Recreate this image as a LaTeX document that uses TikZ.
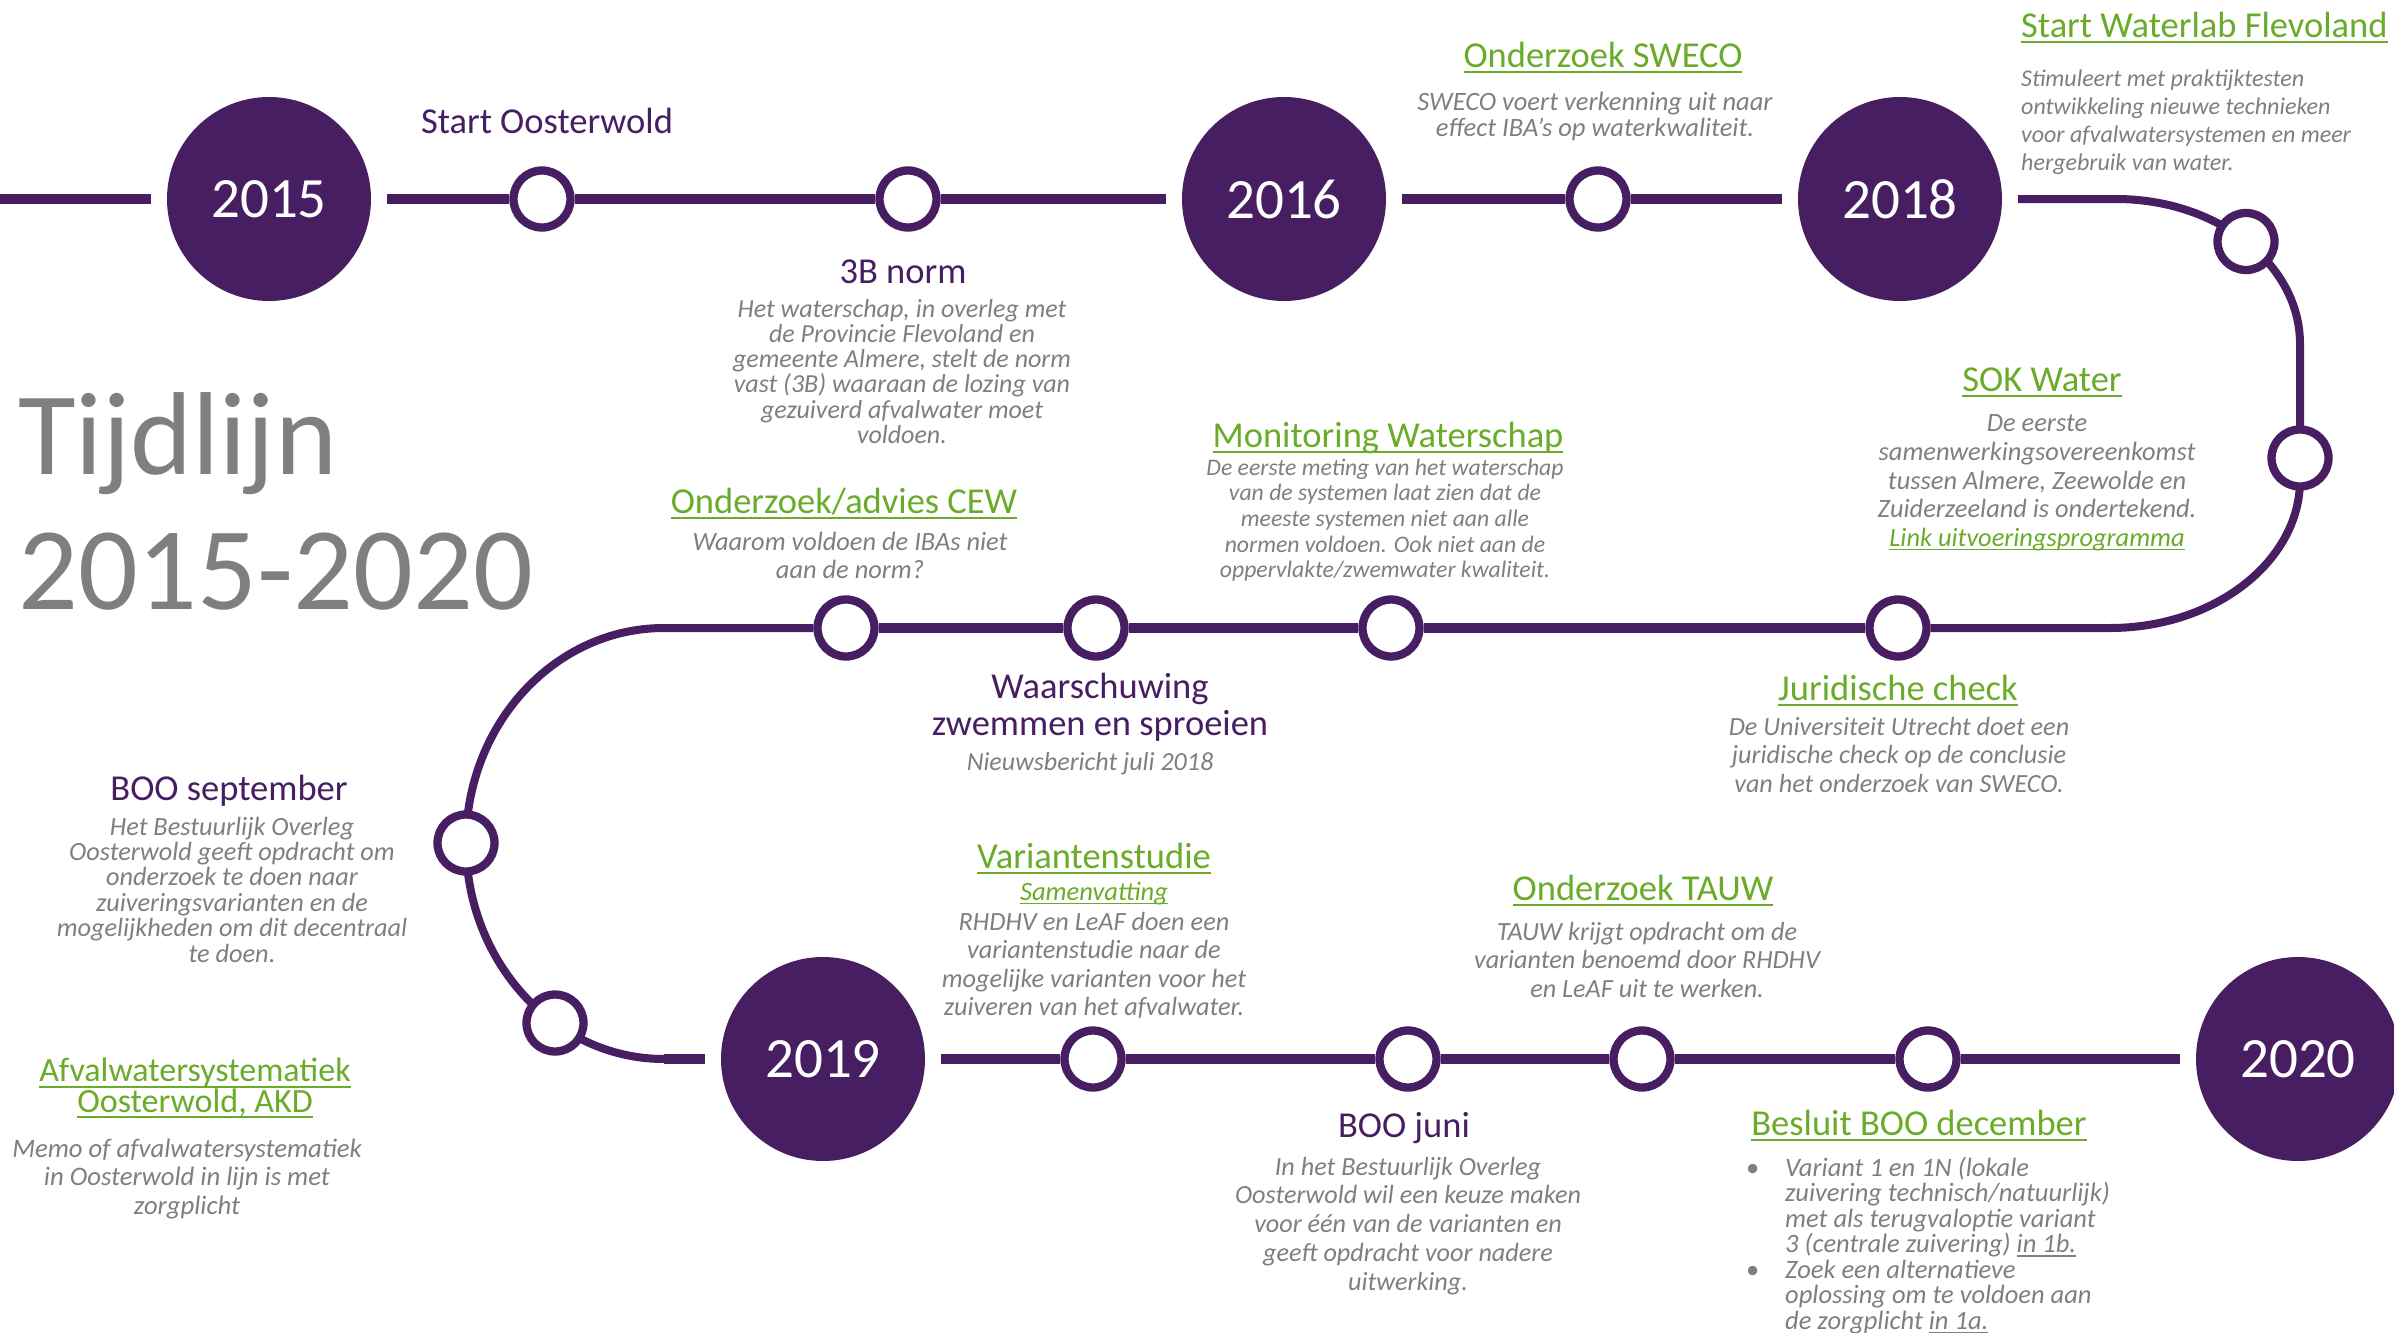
\documentclass[tikz,border=0pt]{standalone}
\usepackage{fontspec}
\setmainfont{Carlito}
\definecolor{tlpurple}{RGB}{72,30,98}
\definecolor{tlgreen}{RGB}{106,172,42}
\definecolor{tlgrey}{RGB}{127,127,127}
\pgfdeclarelayer{bg}
\pgfsetlayers{bg,main}
\newsavebox\ulbox
\newcommand\hul[1]{\sbox\ulbox{#1}\rlap{\vrule height -4pt depth 6pt width \wd\ulbox}\usebox\ulbox}
\newcommand\bul[1]{\sbox\ulbox{#1}\rlap{\vrule height -2.5pt depth 4pt width \wd\ulbox}\usebox\ulbox}
\tikzset{
  year/.style={circle, fill=tlpurple, text=white, minimum size=204pt, inner sep=0pt, outer sep=16pt, font=\fontsize{57}{57}\selectfont},
  dot/.style={circle, draw=tlpurple, line width=8.3pt, fill=white, minimum size=57pt, inner sep=0pt},
  trackthick/.style={draw=tlpurple, line width=10pt},
  trackthin/.style={draw=tlpurple, line width=8pt},
  head/.style={inner sep=0pt, anchor=base, font=\fontsize{36.5}{37}\selectfont},
  ph/.style={head, text=tlpurple},
  gh/.style={head, text=tlgreen},
  body/.style 2 args={inner sep=0pt, anchor=north, align=center, text=tlgrey, font=\fontsize{#1}{#2}\selectfont\itshape},
  titletext/.style={inner sep=0pt, anchor=base west, text=tlgrey, font=\fontsize{118}{118}\selectfont},
}
\begin{document}
\begin{tikzpicture}[x=1pt,y=-1pt]
\useasboundingbox (0,0) rectangle (2394,1333);
\begin{pgfonlayer}{bg}
\fill[white] (0,0) rectangle (2394,1333);
\end{pgfonlayer}

% title
\node[titletext] (t1) at (18,474) {Tijdlijn};
\node[titletext] (t2) at (18,609) {2015-2020};

% year circles
\node[year] (y2015) at (269,199) {2015};
\node[year] (y2016) at (1284,199) {2016};
\node[year] (y2018) at (1900,199) {2018};
\node[year] (y2019) at (823,1059) {2019};
\node[year] (y2020) at (2298,1059) {2020};

% small dots
\node[dot] (s1) at (542,199) {};
\node[dot] (s2) at (908,199) {};
\node[dot] (s3) at (1598,199) {};
\node[dot] (s4) at (2246,241.5) {};
\node[dot] (s5) at (2300,458) {};
\node[dot] (s6) at (1898,628) {};
\node[dot] (s7) at (1391,628) {};
\node[dot] (s8) at (1096,628) {};
\node[dot] (s9) at (846,628) {};
\node[dot] (s10) at (466,843) {};
\node[dot] (s11) at (555,1023) {};
\node[dot] (s12) at (1093,1059) {};
\node[dot] (s13) at (1408,1059) {};
\node[dot] (s14) at (1642,1059) {};
\node[dot] (s15) at (1928,1059) {};

% turning points
\coordinate (e0) at (0,199);
\coordinate (c1) at (2116,199);
\coordinate (c2) at (2300,344);
\coordinate (c3) at (2300,480);
\coordinate (c4) at (2110,628);
\coordinate (c5) at (664,628);
\coordinate (c6) at (466,843);
\coordinate (c7) at (664,1059);

\begin{pgfonlayer}{bg}
\draw[trackthick] (e0) -- (y2015);
\draw[trackthick] (y2015) -- (s1) -- (s2) -- (y2016) -- (s3) -- (y2018);
\draw[trackthin] (y2018) -- (c1) .. controls +(101.6,0) and +(0,-80) .. (c2) -- (c3) .. controls +(0,81) and +(105,0) .. (c4) -- (s6);
\draw[trackthick] (s6) -- (s7) -- (s8) -- (s9);
\draw[trackthin] (s9) -- (c5) .. controls +(-109,0) and +(0,-119) .. (c6) .. controls +(0,119) and +(-109,0) .. (c7);
\draw[trackthick] (c7) -- (y2019) -- (s12) -- (s13) -- (s14) -- (s15) -- (y2020);
\end{pgfonlayer}

% headings
\node[ph] (h1) at (547,133) {Start Oosterwold};
\node[ph] (h2) at (903,283) {3B norm};
\node[gh] (h3) at (1603,67) {\hul{Onderzoek SWECO}};
\node[gh, anchor=base west] (h4) at (2021,37) {\hul{Start Waterlab Flevoland}};
\node[gh] (h5) at (2042,391) {\hul{SOK Water}};
\node[gh] (h6) at (1388,447) {\hul{Monitoring Waterschap}};
\node[gh] (h7) at (844,513) {\hul{Onderzoek/advies CEW}};
\node[ph, anchor=north, align=center] (h8) at (1100,672.5) {Waarschuwing\\zwemmen en sproeien};
\node[gh] (h9) at (1898,700) {\hul{Juridische check}};
\node[ph] (h10) at (229,800) {BOO september};
\node[gh, anchor=north, align=center, font=\fontsize{34}{29}\selectfont] (h11) at (195,1058) {\hul{Afvalwatersystematiek}\\\hul{Oosterwold, AKD}};
\node[gh] (h12) at (1094,868) {\hul{Variantenstudie}};
\node[gh] (h13) at (1643,900) {\hul{Onderzoek TAUW}};
\node[ph] (h14) at (1404,1137) {BOO juni};
\node[gh] (h15) at (1919,1135) {\hul{Besluit BOO december}};

% bodies
\node[body={26}{25.2}] (b2) at (902,299) {Het waterschap, in overleg met\\de Provincie Flevoland en\\gemeente Almere, stelt de norm\\vast (3B) waaraan de lozing van\\gezuiverd afvalwater moet\\voldoen.};
\node[body={26.5}{26}] (b3) at (1595,91.5) {SWECO voert verkenning uit naar\\effect IBA’s op waterkwaliteit.};
\node[body={24}{27.8}, anchor=north west, align=left] (b4) at (2021,70) {Stimuleert met praktijktesten\\ontwikkeling nieuwe technieken\\voor afvalwatersystemen en meer\\hergebruik van water.};
\node[body={26.4}{28.7}] (b5) at (2037,414.5) {De eerste\\samenwerkingsovereenkomst\\tussen Almere, Zeewolde en\\Zuiderzeeland is ondertekend.\\\textcolor{tlgreen}{\bul{Link uitvoeringsprogramma}}};
\node[body={23.7}{25.7}] (b6) at (1385,458.4) {De eerste meting van het waterschap\\van de systemen laat zien dat de\\meeste systemen niet aan alle\\normen voldoen. Ook niet aan de\\oppervlakte/zwemwater kwaliteit.};
\node[body={26.4}{28}] (b7) at (850,531.5) {Waarom voldoen de IBAs niet\\aan de norm?};
\node[body={26}{26}, anchor=base] (b8) at (1090,770) {Nieuwsbericht juli 2018};
\node[body={26.2}{28.5}] (b9) at (1899,716.7) {De Universiteit Utrecht doet een\\juridische check op  de conclusie\\van het onderzoek van SWECO.};
\node[body={26.3}{25.4}] (b10) at (232,816.6) {Het Bestuurlijk Overleg\\Oosterwold geeft opdracht om\\onderzoek te doen naar\\zuiveringsvarianten en de\\mogelijkheden om dit decentraal\\te doen.};
\node[body={26.7}{28.5}] (b11) at (187,1138.3) {Memo of afvalwatersystematiek\\in Oosterwold in lijn is met\\zorgplicht};
\node[body={26.5}{26.5}, anchor=base, text=tlgreen] (b12a) at (1094,900) {\bul{Samenvatting}};
\node[body={26.3}{28.5}] (b12) at (1094,911.6) {RHDHV en LeAF doen een\\variantenstudie naar de\\mogelijke varianten voor het\\zuiveren van het afvalwater.};
\node[body={26.2}{28.5}] (b13) at (1647,921.7) {TAUW krijgt opdracht om de\\varianten benoemd door RHDHV\\en LeAF  uit te werken.};
\node[body={26.2}{28.8}] (b14) at (1408,1156.7) {In het Bestuurlijk Overleg\\Oosterwold wil een keuze maken\\voor één van de varianten en\\geeft opdracht voor nadere\\uitwerking.};
\node[body={26.5}{25.5}, anchor=north west, align=left] (b15) at (1785,1156.5) {\llap{\upshape\textbullet\hskip 26pt}Variant 1 en 1N (lokale\\zuivering technisch/natuurlijk)\\met als terugvaloptie variant\\3 (centrale zuivering) \bul{in 1b.}\\\llap{\upshape\textbullet\hskip 26pt}Zoek een alternatieve\\oplossing om te voldoen aan\\de zorgplicht \bul{in 1a.}};
\end{tikzpicture}
\end{document}
